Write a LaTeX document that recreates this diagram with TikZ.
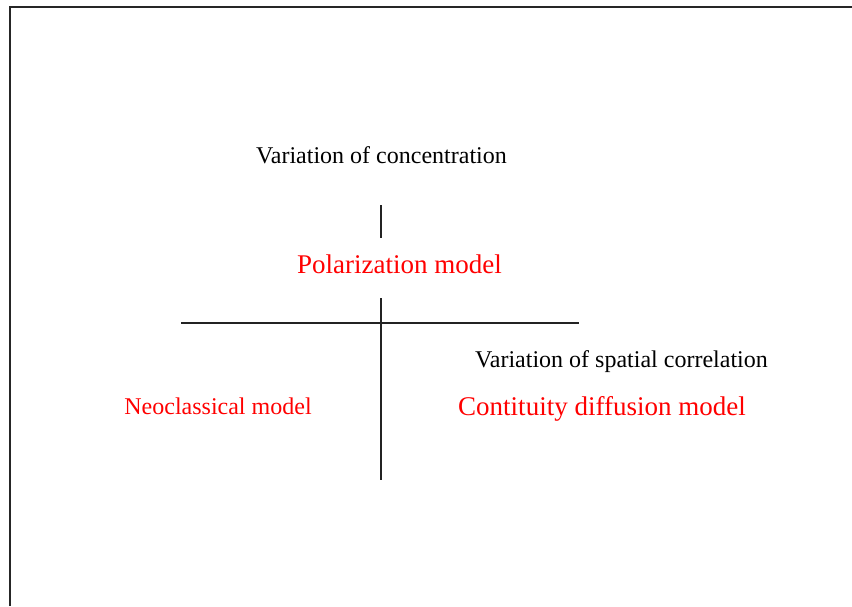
\documentclass[tikz,border=0pt]{standalone}
\usepackage{fontspec}
\setmainfont{Liberation Serif}
\usetikzlibrary{positioning}
\usepackage{xcolor}
\definecolor{modelred}{RGB}{255,0,0}
\definecolor{axisgray}{RGB}{35,35,35}
\tikzset{
  caption/.style={anchor=base, inner sep=0pt, font=\fontsize{13.66}{16}\selectfont, text=black},
  model/.style={anchor=base, inner sep=0pt, font=\fontsize{15.37}{18}\selectfont, text=modelred},
  modelsmall/.style={model, font=\fontsize{13.66}{16}\selectfont},
  axis/.style={line width=1.1pt, draw=axisgray},
  frameline/.style={line width=1.2pt, draw=black!85},
}
\begin{document}
\begin{tikzpicture}
\useasboundingbox (0,0) rectangle (17.04,-12.12);
\draw[frameline] (0.2,-12.12) -- (0.2,-0.14) -- (17.04,-0.14);
\node[caption] (conc) at (7.63,-3.26) {Variation of concentration};
\node[model] (polar) at (7.99,-5.46) {Polarization model};
\node[modelsmall] (neo) at (4.36,-8.28) {Neoclassical model};
\node[caption] (spatial) at (12.43,-7.34) {Variation of spatial correlation};
\node[model] (contin) at (12.04,-8.30) {Contituity diffusion model};
% axes
\coordinate (stemtop) at (7.62,-4.10);
\coordinate (stembot) at (7.62,-4.76);
\coordinate (axtop) at (7.62,-5.96);
\coordinate (axbot) at (7.62,-9.60);
\coordinate (axleft) at (3.62,-6.46);
\coordinate (axright) at (11.58,-6.46);
\foreach \a/\b in {stemtop/stembot, axtop/axbot, axleft/axright}
  \draw[axis] (\a) -- (\b);
\end{tikzpicture}
\end{document}
